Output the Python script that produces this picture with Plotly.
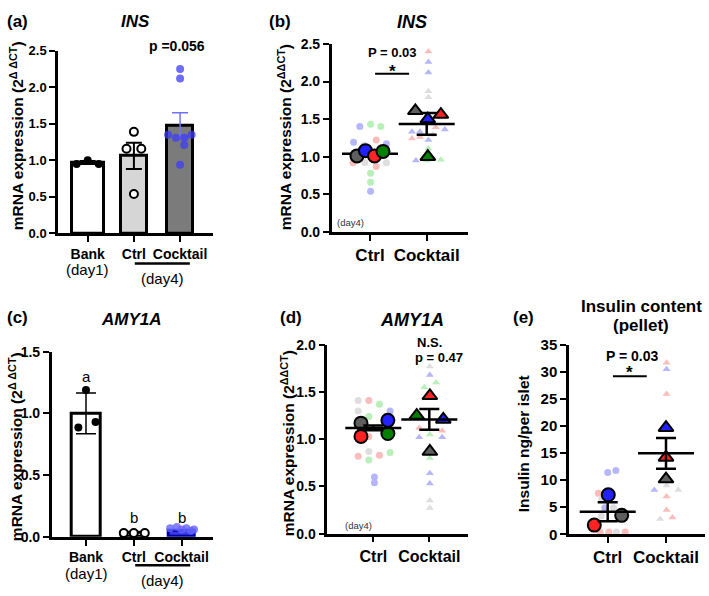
import plotly.graph_objects as go

W, H = 709, 596
FONT = "Liberation Sans, Arial, sans-serif"

# ---------------- data ----------------
# (a) INS bar chart
a_groups = ["Bank", "Ctrl", "Cocktail"]
a_means = [0.97, 1.06, 1.48]
a_sem = [0.02, 0.18, 0.17]
a_bank_pts = [0.95, 1.00, 0.95]
a_bank_jit = [-0.24, 0.0, 0.24]
a_ctrl_pts = [1.39, 1.16, 1.16, 0.54]
a_ctrl_jit = [0.0, -0.16, 0.16, 0.0]
a_cock_pts = [2.25, 2.12, 1.35, 1.31, 1.31, 1.35, 1.21, 0.94]
a_cock_jit = [0, 0, -0.26, -0.09, 0.09, 0.25, 0.09, 0]

# (b) INS per donor
b_groups = ["Ctrl", "Cocktail"]
b_ctrl_vals = [1.40, 1.43, 1.40, 1.19, 1.22, 1.17, 0.92, 0.92, 0.87, 0.92, 0.78, 0.66, 0.54, 1.03, 1.05, 1.15]
b_ctrl_donor = ["blue", "green", "green", "blue", "red", "blue", "red", "gray", "red", "gray", "green", "green", "blue", "red", "gray", "gray"]
b_ctrl_jit = [-0.18, 0.01, 0.19, -0.29, 0.11, 0.29, -0.30, -0.09, 0.11, 0.29, 0.01, 0.01, 0.01, 0.1, -0.2, -0.1]
b_cock_vals = [2.40, 2.26, 2.12, 1.87, 1.79, 1.33, 1.33, 1.39, 1.24, 1.26, 1.22, 1.36, 1.11, 0.95, 0.96, 1.29, 1.49, 0.95, 0.98]
b_cock_donor = ["red", "blue", "blue", "gray", "gray", "blue", "blue", "red", "red", "red", "blue", "blue", "green", "blue", "green", "gray", "gray", "green", "green"]
b_cock_jit = [0.03, 0.03, 0.03, 0.03, 0.03, -0.26, -0.12, 0.16, -0.26, -0.12, 0.03, 0.32, 0.03, -0.19, 0.25, 0.11, 0.03, 0.0, 0.05]
b_ctrl_big = [1.01, 1.08, 1.01, 1.07]
b_ctrl_big_donor = ["gray", "blue", "red", "green"]
b_ctrl_big_jit = [-0.23, -0.08, 0.08, 0.23]
b_cock_big = [1.61, 1.50, 1.56, 1.00]
b_cock_big_donor = ["gray", "blue", "red", "green"]
b_cock_big_jit = [-0.2, 0.02, 0.25, 0.02]
b_means = [1.04, 1.435]
b_sem = [0.015, 0.145]

# (c) AMY1A bar chart
c_groups = ["Bank", "Ctrl", "Cocktail"]
c_means = [1.0, 0.03, 0.05]
c_sd = [0.165, 0.005, 0.01]
c_bank_pts = [1.19, 0.886, 0.93]
c_bank_jit = [0.0, -0.16, 0.2]
c_ctrl_pts = [0.03, 0.03, 0.03]
c_ctrl_jit = [-0.21, 0.0, 0.23]
c_cock_pts = [0.07, 0.08, 0.06, 0.07, 0.05, 0.06]
c_cock_jit = [-0.24, -0.1, 0.0, 0.1, 0.2, 0.26]
c_letters = ["a", "b", "b"]
c_letter_y = [1.30, 0.16, 0.16]

# (d) AMY1A per donor
d_ctrl_vals = [1.41, 1.41, 1.37, 1.30, 1.24, 1.30, 1.03, 0.87, 0.82, 0.83, 0.78, 0.86, 0.60, 0.54]
d_ctrl_donor = ["gray", "red", "green", "gray", "green", "blue", "red", "gray", "red", "red", "green", "green", "blue", "blue"]
d_ctrl_jit = [-0.27, -0.08, 0.11, -0.27, -0.08, 0.30, -0.08, -0.08, -0.27, 0.11, -0.08, 0.30, 0.02, 0.02]
d_cock_vals = [1.77, 1.68, 1.55, 1.60, 1.12, 1.09, 1.02, 1.02, 1.05, 0.80, 0.64, 0.53, 0.35, 0.27]
d_cock_donor = ["gray", "blue", "green", "green", "red", "red", "blue", "blue", "green", "green", "blue", "blue", "gray", "gray"]
d_cock_jit = [0.01, 0.01, -0.09, 0.12, -0.18, 0.23, -0.18, 0.23, 0.01, 0.01, 0.01, 0.01, 0.01, 0.01]
d_ctrl_big = [1.17, 1.20, 1.03, 1.06]
d_ctrl_big_donor = ["gray", "blue", "red", "green"]
d_ctrl_big_jit = [-0.22, 0.26, -0.22, 0.26]
d_cock_big = [1.46, 1.25, 1.21, 0.87]
d_cock_big_donor = ["red", "green", "blue", "gray"]
d_cock_big_jit = [0.01, -0.225, 0.25, 0.01]
d_means = [1.12, 1.21]
d_sem = [0.025, 0.11]

# (e) Insulin content per donor
e_ctrl_vals = [11.4, 11.8, 7.6, 4.9, 3.4, 4.9, 0.4, 0.4, 0.4, 0.4, 6.5]
e_ctrl_donor = ["blue", "blue", "red", "blue", "gray", "gray", "red", "red", "gray", "red", "gray"]
e_ctrl_jit = [0.0, 0.14, -0.16, -0.05, -0.11, 0.1, -0.13, 0.02, 0.15, 0.3, -0.1]
e_cock_vals = [31.7, 30.5, 25.9, 8.2, 9.0, 8.2, 7.0, 4.5, 3.1, 2.8]
e_cock_donor = ["red", "blue", "red", "blue", "gray", "gray", "red", "red", "red", "gray"]
e_cock_jit = [0.01, 0.01, 0.01, -0.2, 0.01, 0.21, 0.01, 0.01, 0.11, -0.1]
e_ctrl_big = [7.3, 3.5, 1.7]
e_ctrl_big_donor = ["blue", "gray", "red"]
e_ctrl_big_jit = [0.01, 0.24, -0.23]
e_cock_big = [19.7, 14.2, 10.2]
e_cock_big_donor = ["blue", "red", "gray"]
e_cock_big_jit = [0.0, 0.0, 0.0]
e_means = [4.15, 14.95]
e_sem = [1.75, 2.85]

FAINT = {"blue": "#b6b6fb", "red": "#fbbcbc", "green": "#b9efb9", "gray": "#dedede"}
STRONG = {"blue": "#2222ff", "red": "#ff2323", "green": "#007f00", "gray": "#5e5e5e"}


def fx(px):
    return px / W


def fy(py):
    return 1 - py / H


fig = go.Figure()
layout_axes = {}
annotations = []
shapes = []


def add_axes(i, left, right, bottom, top, tick0_px, step_px, yrange, dtick, yfmt,
             xticktext, xfs, yfs):
    sfx = "" if i == 1 else str(i)
    xr = [(left - tick0_px) / step_px, (right - tick0_px) / step_px]
    common = dict(showline=True, linecolor="black", linewidth=2.5, ticks="outside",
                  ticklen=6, tickwidth=2, tickcolor="black", showgrid=False,
                  zeroline=False, fixedrange=True)
    layout_axes["xaxis" + sfx] = dict(
        domain=[fx(left), fx(right)], range=xr, anchor="y" + sfx,
        tickmode="array", tickvals=list(range(len(xticktext))), ticktext=xticktext,
        tickfont=dict(family=FONT, size=xfs, color="black", weight="bold"), **common)
    n = int(round(yrange[1] / dtick))
    layout_axes["yaxis" + sfx] = dict(
        domain=[fy(bottom), fy(top)], range=yrange, anchor="x" + sfx,
        tickmode="array", tickvals=[k * dtick for k in range(n + 1)], tickformat=yfmt,
        tickfont=dict(family=FONT, size=yfs, color="black", weight="bold"), **common)
    return "x" + sfx, "y" + sfx


def ann(text, x, y, size, xref="paper", bold=True, italic=False, color="black", angle=0):
    annotations.append(dict(
        text=text, x=x, y=y, xref=xref, yref="paper", showarrow=False,
        xanchor="center", yanchor="middle", textangle=angle,
        font=dict(family=FONT, size=size, color=color,
                  weight="bold" if bold else "normal",
                  style="italic" if italic else "normal")))


def hline(xref, x0, x1, ypx, width=2.5):
    shapes.append(dict(type="line", xref=xref, yref="paper", x0=x0, x1=x1,
                       y0=fy(ypx), y1=fy(ypx), line=dict(color="black", width=width)))


# ---------------- panel (a) ----------------
xa, ya = add_axes(1, 58, 213, 231, 43, 87.7, 46.2, [0, 2.5], 0.5, ".1f",
                  a_groups, 14, 13)
fig.add_trace(go.Bar(x=[0, 1, 2], y=a_means, width=[0.7, 0.56, 0.56],
                     marker=dict(color=["white", "#d6d6d6", "#7b7b7b"],
                                 line=dict(color="black", width=3)),
                     xaxis=xa, yaxis=ya))
fig.add_trace(go.Scatter(x=[0, 1], y=a_means[:2], mode="markers",
                         marker=dict(size=1, color="rgba(0,0,0,0)"),
                         error_y=dict(type="data", array=a_sem[:2], color="black",
                                      thickness=2, width=8),
                         xaxis=xa, yaxis=ya))
fig.add_trace(go.Scatter(x=[2], y=a_means[2:], mode="markers",
                         marker=dict(size=1, color="rgba(0,0,0,0)"),
                         error_y=dict(type="data", array=a_sem[2:], color="#7070ff",
                                      thickness=1.5, width=8),
                         xaxis=xa, yaxis=ya))
fig.add_trace(go.Scatter(x=[0 + j for j in a_bank_jit], y=a_bank_pts, mode="markers",
                         marker=dict(size=8, color="black"), cliponaxis=False,
                         xaxis=xa, yaxis=ya))
fig.add_trace(go.Scatter(x=[1 + j for j in a_ctrl_jit], y=a_ctrl_pts, mode="markers",
                         marker=dict(size=8, color="white", line=dict(color="black", width=2)),
                         cliponaxis=False, xaxis=xa, yaxis=ya))
fig.add_trace(go.Scatter(x=[2 + j for j in a_cock_jit], y=a_cock_pts, mode="markers",
                         marker=dict(size=8, color="rgba(60,60,245,0.75)"),
                         cliponaxis=False, xaxis=xa, yaxis=ya))
ann("(a)", fx(17.5), fy(13), 17)
ann("INS", fx(135), fy(13), 17, italic=True)
ann("p =0.056", 1.93, fy(38), 14, xref=xa)
ann("<b>mRNA expression (2<sup>Δ ΔCT</sup>)</b>", fx(17), fy(131), 15.5, angle=-90)
ann("(day1)", 0, fy(268), 15, xref=xa, bold=False)
hline(xa, 1.02, 2.21, 262)
ann("(day4)", 1.62, fy(277), 15, xref=xa, bold=False)

# ---------------- panel (c) ----------------
xc, yc = add_axes(3, 51.7, 213, 543.3, 352.7, 86, 47.8, [0, 1.5], 0.5, ".1f",
                  c_groups, 14, 14)
fig.add_trace(go.Bar(x=[0, 1, 2], y=c_means, width=[0.6, 0.5, 0.53],
                     marker=dict(color=["white", "white", "#3a3ae6"],
                                 line=dict(color=["black", "black", "#0000a8"], width=3)),
                     xaxis=xc, yaxis=yc))
fig.add_trace(go.Scatter(x=[0], y=c_means[:1], mode="markers",
                         marker=dict(size=1, color="rgba(0,0,0,0)"),
                         error_y=dict(type="data", array=c_sd[:1], color="black",
                                      thickness=1.5, width=10),
                         xaxis=xc, yaxis=yc))
fig.add_trace(go.Scatter(x=[0 + j for j in c_bank_jit], y=c_bank_pts, mode="markers",
                         marker=dict(size=8, color="black"), cliponaxis=False,
                         xaxis=xc, yaxis=yc))
fig.add_trace(go.Scatter(x=[1 + j for j in c_ctrl_jit], y=c_ctrl_pts, mode="markers",
                         marker=dict(size=8, color="white", line=dict(color="black", width=2)),
                         cliponaxis=False, xaxis=xc, yaxis=yc))
fig.add_trace(go.Scatter(x=[2 + j for j in c_cock_jit], y=c_cock_pts, mode="markers",
                         marker=dict(size=8, color="rgba(100,100,255,0.8)"),
                         cliponaxis=False, xaxis=xc, yaxis=yc))
ann("(c)", fx(17.5), fy(318), 17)
ann("AMY1A", fx(131), fy(320), 17, italic=True)
for i, (t, yv) in enumerate(zip(c_letters, c_letter_y)):
    annotations.append(dict(text=t, x=i, y=yv, xref=xc, yref=yc, showarrow=False,
                            xanchor="center", yanchor="middle",
                            font=dict(family=FONT, size=15, color="black")))
ann("<b>mRNA expression (2<sup>Δ ΔCT</sup>)</b>", fx(16), fy(451), 15.5, angle=-90)
ann("(day1)", 0, fy(581), 15, xref=xc, bold=False)
hline(xc, 1.03, 2.18, 572.7)
ann("(day4)", 1.61, fy(588), 15, xref=xc, bold=False)


# ---------------- dot panels ----------------
def dot_panel(xr_, yr_, cv, cd, cj, kv, kd, kj, cbv, cbd, cbj, kbv, kbd, kbj,
              means, sem, lines_on_top, circ_big=13, tri_big=13):
    fig.add_trace(go.Scatter(x=[0 + j for j in cj], y=cv, mode="markers",
                             marker=dict(size=7, color=[FAINT[d] for d in cd]),
                             cliponaxis=False, xaxis=xr_, yaxis=yr_))
    fig.add_trace(go.Scatter(x=[1 + j for j in kj], y=kv, mode="markers",
                             marker=dict(size=7, symbol="triangle-up",
                                         color=[FAINT[d] for d in kd]),
                             cliponaxis=False, xaxis=xr_, yaxis=yr_))
    mean_tr = go.Scatter(x=[0, 1], y=means, mode="markers",
                         marker=dict(symbol="line-ew", size=40,
                                     line=dict(color="black", width=2.5)),
                         error_y=dict(type="data", array=sem, color="black",
                                      thickness=2.5, width=10),
                         cliponaxis=False, xaxis=xr_, yaxis=yr_)
    if not lines_on_top:
        fig.add_trace(mean_tr)
    fig.add_trace(go.Scatter(x=[0 + j for j in cbj], y=cbv, mode="markers",
                             marker=dict(size=circ_big, color=[STRONG[d] for d in cbd],
                                         line=dict(color="black", width=2)),
                             cliponaxis=False, xaxis=xr_, yaxis=yr_))
    fig.add_trace(go.Scatter(x=[1 + j for j in kbj], y=kbv, mode="markers",
                             marker=dict(size=tri_big, symbol="triangle-up",
                                         color=[STRONG[d] for d in kbd],
                                         line=dict(color="black", width=2)),
                             cliponaxis=False, xaxis=xr_, yaxis=yr_))
    if lines_on_top:
        fig.add_trace(mean_tr)


# (b)
xb, yb = add_axes(2, 331.7, 468, 229.3, 36, 370, 56.7, [0, 2.5], 0.5, ".1f",
                  b_groups, 17, 14)
dot_panel(xb, yb, b_ctrl_vals, b_ctrl_donor, b_ctrl_jit, b_cock_vals, b_cock_donor,
          b_cock_jit, b_ctrl_big, b_ctrl_big_donor, b_ctrl_big_jit, b_cock_big,
          b_cock_big_donor, b_cock_big_jit, b_means, b_sem, False)
ann("(b)", fx(280), fy(13), 17)
ann("INS", fx(412), fy(13), 18, italic=True)
ann("<b>mRNA expression (2<sup>ΔΔCT</sup>)</b>", fx(285), fy(132), 15.5, angle=-90)
ann("P = 0.03", 0.40, fy(45), 13, xref=xb)
ann("*", 0.39, fy(64), 17, xref=xb)
hline(xb, 0.09, 0.69, 66.7, 2)
ann("(day4)", -0.35, fy(220), 9.5, xref=xb, bold=False, color="#333333")

# (d)
xd, yd = add_axes(4, 327.3, 468, 540, 345.7, 373.3, 56, [0, 2.0], 0.5, ".1f",
                  b_groups, 16, 14)
dot_panel(xd, yd, d_ctrl_vals, d_ctrl_donor, d_ctrl_jit, d_cock_vals, d_cock_donor,
          d_cock_jit, d_ctrl_big, d_ctrl_big_donor, d_ctrl_big_jit, d_cock_big,
          d_cock_big_donor, d_cock_big_jit, d_means, d_sem, True)
ann("(d)", fx(291), fy(318), 17)
ann("AMY1A", fx(412), fy(320), 18, italic=True)
ann("<b>mRNA expression (2<sup>ΔΔCT</sup>)</b>", fx(288), fy(447), 15.5, angle=-90)
ann("N.S.", 1.01, fy(343), 13, xref=xd)
ann("p = 0.47", 1.17, fy(359), 13, xref=xd)
ann("(day4)", -0.27, fy(532), 9.5, xref=xd, bold=False, color="#333333")

# (e)
xe, ye = add_axes(5, 569, 705, 540.7, 345.7, 607.7, 58.3, [0, 35], 5, "d",
                  b_groups, 17, 15)
dot_panel(xe, ye, e_ctrl_vals, e_ctrl_donor, e_ctrl_jit, e_cock_vals, e_cock_donor,
          e_cock_jit, e_ctrl_big, e_ctrl_big_donor, e_ctrl_big_jit, e_cock_big,
          e_cock_big_donor, e_cock_big_jit, e_means, e_sem, True)
ann("(e)", fx(523), fy(318), 17)
ann("Insulin content", fx(641), fy(306), 17)
ann("(pellet)", fx(641), fy(326), 17)
ann("Insulin ng/per islet", fx(523), fy(448), 15.5, angle=-90)
ann("P = 0.03", 0.43, fy(357), 14, xref=xe)
ann("*", 0.38, fy(374), 17, xref=xe)
hline(xe, 0.09, 0.67, 378, 2)

fig.update_layout(
    width=W, height=H, margin=dict(l=0, r=0, t=0, b=0),
    paper_bgcolor="white", plot_bgcolor="white", showlegend=False,
    annotations=annotations, shapes=shapes, bargap=0,
    font=dict(family=FONT, color="black"),
    **layout_axes)

fig.write_html(
    "out.html",
    config={"displayModeBar": False},
    post_script=(
        "document.documentElement.style.margin='0';"
        "document.documentElement.style.overflow='hidden';"
        "document.body.style.margin='0';"
        "document.body.style.overflow='hidden';"
        "var gd=document.getElementById('{plot_id}');"
        "gd.style.position='fixed';gd.style.left='0px';gd.style.top='0px';"
    ),
)
